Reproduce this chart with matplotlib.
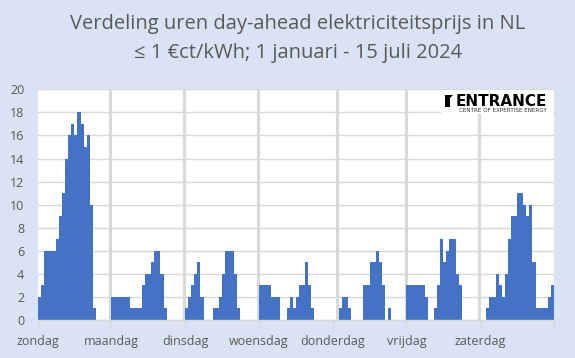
import numpy as np
import matplotlib
matplotlib.use("Agg")
import matplotlib.pyplot as plt
from matplotlib.patches import Rectangle, Polygon

plt.rcParams['font.family'] = ['Open Sans', 'DejaVu Sans']

# ---- data: number of hours with price <= 1 ct/kWh, per weekday and hour ----
days = ["zondag", "maandag", "dinsdag", "woensdag", "donderdag", "vrijdag", "zaterdag"]
zondag    = [2, 3, 6, 6, 6, 6, 7, 9, 11, 14, 16, 17, 16, 18, 17, 15, 16, 10, 1, 0, 0, 0, 0, 0]
maandag   = [2, 2, 2, 2, 2, 2, 1, 1, 1, 1, 3, 4, 4, 5, 6, 6, 4, 1, 0, 0, 0, 0, 0, 0]
dinsdag   = [1, 2, 3, 4, 5, 2, 0, 0, 0, 1, 1, 2, 4, 6, 6, 6, 4, 1, 0, 0, 0, 0, 0, 0]
woensdag  = [3, 3, 3, 3, 2, 2, 2, 0, 0, 1, 2, 1, 2, 3, 3, 5, 3, 1, 0, 0, 0, 0, 0, 0]
donderdag = [0, 0, 1, 2, 2, 1, 0, 0, 0, 0, 3, 3, 5, 5, 6, 5, 3, 0, 1, 0, 0, 0, 0, 0]
vrijdag   = [3, 3, 3, 3, 3, 3, 2, 0, 0, 1, 3, 7, 5, 6, 7, 7, 4, 3, 0, 0, 0, 0, 0, 0]
zaterdag  = [0, 0, 1, 2, 2, 4, 3, 2, 4, 7, 9, 9, 11, 11, 10, 9, 10, 5, 1, 1, 1, 1, 2, 3]
yticks = list(range(0, 21, 2))

title1 = "Verdeling uren day-ahead elektriciteitsprijs in NL"
title2 = "\u2264 1 \u20acct/kWh; 1 januari - 15 juli 2024"

values = zondag + maandag + dinsdag + woensdag + donderdag + vrijdag + zaterdag
n_hours = 24
x = np.arange(len(values))

W, H = 575, 358
fig = plt.figure(figsize=(W / 100, H / 100), dpi=100)
fig.patch.set_facecolor('#DAE3F3')

ax = fig.add_axes([37.5 / W, 1 - 320 / H, (554 - 37.5) / W, (320 - 89.3) / H])
ax.set_facecolor('white')

ax.bar(x, values, width=1.0, color='#4472C4', linewidth=0, zorder=3)
ax.set_xlim(-0.5, len(values) - 0.5)
ax.set_ylim(0, 20)
ax.set_yticks(yticks)
ax.yaxis.grid(True, color='#D9D9D9', linewidth=1.0)
ax.set_axisbelow(True)

# day separators (the Thursday one sits one hour into the day in the original)
sep_pos = [n_hours * d - 0.8 for d in range(1, 7)]
sep_pos[3] = n_hours * 4 + 1
for p in sep_pos:
    ax.axvline(p, color='#D9D9D9', linewidth=2.3, zorder=2)

for s in ['left', 'right', 'top']:
    ax.spines[s].set_visible(False)
ax.spines['bottom'].set_color('#D9D9D9')
ax.spines['bottom'].set_linewidth(1.0)
ax.spines['bottom'].set_zorder(4)

bounds = [n_hours * d - 0.5 for d in range(len(days) + 1)]
ax.set_xticks(bounds)
ax.set_xticklabels(days + [''])
ax.tick_params(axis='x', length=7, width=1, color='#D9D9D9', pad=4,
               labelsize=9, labelcolor='#595959')
ax.tick_params(axis='y', length=0, pad=9.5, labelsize=9, labelcolor='#595959')

fig.text(298 / W, 1 - 24 / H, title1, ha='center', va='center',
         fontsize=14.5, color='#595959')
fig.text(298 / W, 1 - 53 / H, title2, ha='center', va='center',
         fontsize=14.5, color='#595959')

# logo
fig.patches.append(Rectangle((441 / W, 1 - 114 / H), (553 - 441) / W, (114 - 90) / H,
                             transform=fig.transFigure, facecolor='white',
                             edgecolor='none', zorder=5))
fig.patches.append(Polygon([(445 / W, 1 - 95 / H), (453 / W, 1 - 95 / H),
                            (450 / W, 1 - 98 / H), (450 / W, 1 - 107 / H),
                            (445 / W, 1 - 107 / H)],
                           closed=True, transform=fig.transFigure,
                           facecolor='black', edgecolor='none', zorder=6))
fig.text(456 / W, 1 - 101 / H, "ENTRANCE", ha='left', va='center',
         fontsize=11, fontweight='bold', color='black',
         family=['DejaVu Sans'], zorder=7)
fig.text(459 / W, 1 - 110.5 / H, "CENTRE OF EXPERTISE ENERGY", ha='left',
         va='center', fontsize=4.1, color='#333333', family=['DejaVu Sans'], zorder=7)

fig.savefig('out.png', dpi=100, facecolor=fig.get_facecolor())
